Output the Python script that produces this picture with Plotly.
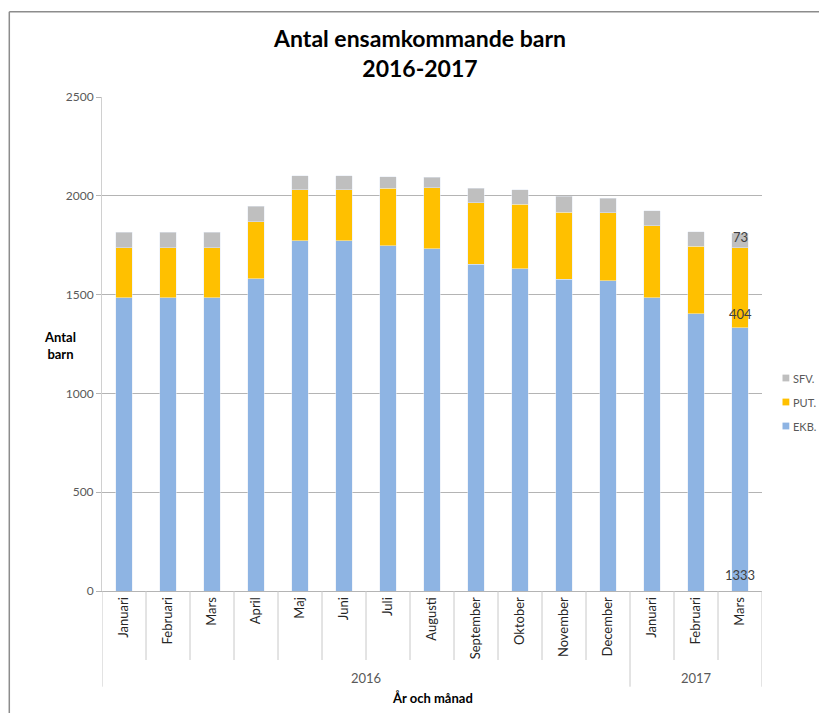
import plotly.graph_objects as go

months = ["Januari", "Februari", "Mars", "April", "Maj", "Juni", "Juli", "Augusti",
          "September", "Oktober", "November", "December", "Januari", "Februari", "Mars"]
years = ["2016"] * 12 + ["2017"] * 3
ekb = [1483, 1483, 1483, 1579, 1773, 1773, 1748, 1732, 1653, 1631, 1577, 1570, 1485, 1402, 1333]
put = [254, 254, 254, 289, 257, 257, 289, 308, 313, 325, 341, 343, 364, 343, 404]
sfv = [78, 78, 78, 78, 71, 71, 60, 54, 73, 74, 81, 75, 75, 74, 73]
series_names = ["EKB.", "PUT.", "SFV."]
series_colors = ["#8EB4E3", "#FFC000", "#BFBFBF"]
y_ticks = [0, 500, 1000, 1500, 2000, 2500]

FONT = "Lato, 'Open Sans', sans-serif"
GRID = "#b4b4b4"
xs = list(range(len(months)))

# plot area in pixels
L, R, T, B = 102, 762, 97, 591
W, H = 819, 713
def px(xp):
    return (xp - L) / (R - L)
def py(yp):
    return (B - yp) / (B - T)

fig = go.Figure()
for vals, name, col in zip([ekb, put, sfv], series_names, series_colors):
    fig.add_bar(x=xs, y=vals, name=name, marker_color=col, showlegend=False)

shapes = []
annotations = []
# frame (top and left)
shapes.append(dict(type="line", xref="paper", yref="paper", x0=px(9.3), x1=px(819), y0=py(11.7), y1=py(11.7),
                   line=dict(color="#8c8c8c", width=1.5)))
shapes.append(dict(type="line", xref="paper", yref="paper", x0=px(9.3), x1=px(9.3), y0=py(11.7), y1=py(713),
                   line=dict(color="#8c8c8c", width=1.5)))
# category dividers
for i in range(len(months) + 1):
    xb = i - 0.5
    group_edge = i == 0 or i == len(months) or years[i] != years[i - 1]
    y1 = py(686.7) if group_edge else py(660)
    shapes.append(dict(type="line", xref="x", yref="paper", x0=xb, x1=xb, y0=0, y1=y1,
                       line=dict(color="#c8c8c8", width=1)))

# legend (top item = last series)
leg_y = [426, 402, 378]
for name, col, yc in zip(series_names, series_colors, leg_y):
    shapes.append(dict(type="rect", xref="paper", yref="paper", x0=px(782.5), x1=px(789.3),
                       y0=py(yc + 3.4), y1=py(yc - 3.4), fillcolor=col, line=dict(width=0)))
    annotations.append(dict(x=px(791.5), xref="paper", y=py(yc), yref="paper", text=name, showarrow=False,
                            xanchor="left", yanchor="middle", borderpad=0,
                            font=dict(family=FONT, size=11, color="#595959")))

# year group labels
groups = []
for i, yv in enumerate(years):
    if not groups or groups[-1][0] != yv:
        groups.append([yv, i, i])
    else:
        groups[-1][2] = i
for yv, a, b in groups:
    annotations.append(dict(x=(a + b) / 2, xref="x", y=py(677.7), yref="paper", text=yv, showarrow=False,
                            font=dict(family=FONT, size=13, color="#595959"), yanchor="middle"))
# axis titles
annotations.append(dict(x=0.5, xref="paper", y=py(697.7), yref="paper", text="<b>År och månad</b>",
                        showarrow=False, font=dict(family=FONT, size=13, color="#000000"), yanchor="middle"))
annotations.append(dict(x=px(42), xref="paper", y=py(345), yref="paper", text="<b>Antal<br>barn</b>",
                        showarrow=False, font=dict(family=FONT, size=13, color="#000000"), align="center"))
# data labels on last bar
k = len(months) - 1
lab_font = dict(family=FONT, size=13, color="#404040")
annotations.append(dict(x=xs[k], y=ekb[k] + put[k] + sfv[k] / 2, text=str(sfv[k]), showarrow=False,
                        font=lab_font, yanchor="middle", yshift=4))
annotations.append(dict(x=xs[k], y=ekb[k], text=str(put[k]), showarrow=False,
                        font=lab_font, yanchor="bottom", yshift=4))
annotations.append(dict(x=xs[k], y=0, text=str(ekb[k]), showarrow=False,
                        font=lab_font, yanchor="bottom", yshift=6))

fig.update_layout(
    width=W, height=H,
    margin=dict(l=L, r=W - R, t=T, b=H - B, pad=0, autoexpand=False),
    paper_bgcolor="white", plot_bgcolor="white",
    barmode="stack", bargap=0.614, showlegend=False,
    title=dict(text="<b>Antal ensamkommande barn<br>2016-2017</b>", x=420 / W, xref="container", xanchor="center",
               y=1 - 47 / H, yref="container", yanchor="top",
               font=dict(family=FONT, size=23, color="#000000")),
    font=dict(family=FONT, size=13, color="#595959"),
    xaxis=dict(range=[-0.5, len(months) - 0.5], tickvals=xs, ticktext=months, tickangle=-90,
               showgrid=False, zeroline=False, showline=True, linecolor=GRID, linewidth=1,
               ticks="", tickfont=dict(family=FONT, size=13, color="#262626")),
    yaxis=dict(range=[0, 2500], tickvals=y_ticks, showgrid=True, gridcolor=GRID, gridwidth=1,
               zeroline=False, showline=True, linecolor="#d0d0d0", linewidth=1,
               ticks="outside", ticklen=5, tickcolor=GRID,
               tickfont=dict(family=FONT, size=12, color="#595959")),
    shapes=shapes, annotations=annotations,
)

fig.write_html("out.html", config={"displayModeBar": False},
               post_script="document.body.style.margin='0';document.body.style.overflow='hidden';")
